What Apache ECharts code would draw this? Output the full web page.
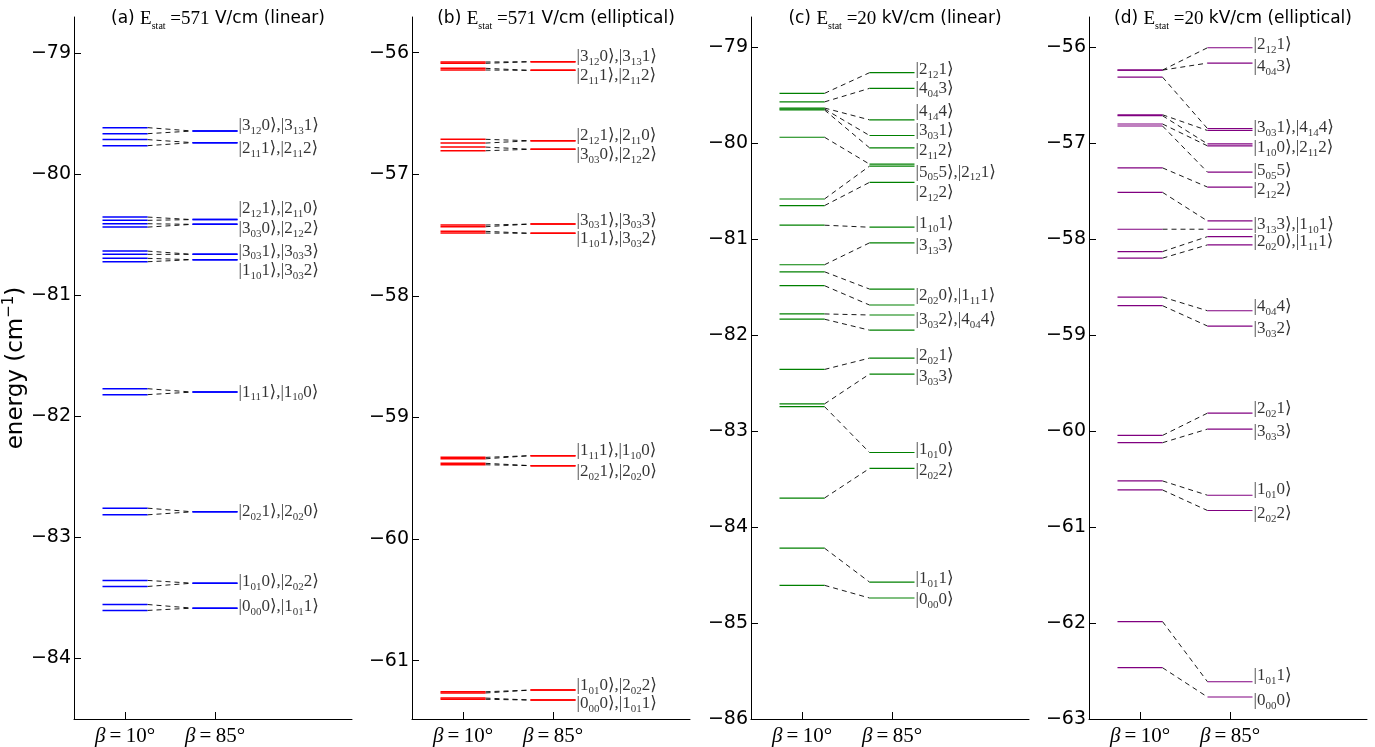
<!DOCTYPE html>
<html><head><meta charset="utf-8">
<script src="https://cdn.jsdelivr.net/npm/echarts@6/dist/echarts.min.js"></script>
<style>html,body{margin:0;padding:0;background:#fff}#c{width:1375px;height:747px}</style>
</head><body><div id="c"></div><script>
// ---------- DATA ----------
const betaLabels = ['10°', '85°'];
const panelLetters = ['(a)', '(b)', '(c)', '(d)'];
const fieldValues = ['571', '571', '20', '20'];
const fieldUnits = ['V/cm', 'V/cm', 'kV/cm', 'kV/cm'];
const polarizations = ['linear', 'elliptical', 'linear', 'elliptical'];
const yTicksA = [-84, -83, -82, -81, -80, -79];
const yTicksB = [-61, -60, -59, -58, -57, -56];
const yTicksC = [-86, -85, -84, -83, -82, -81, -80, -79];
const yTicksD = [-63, -62, -61, -60, -59, -58, -57, -56];

// panel (a): energy at beta=10 (left) and beta=85 (right) for each state
const aLeft = [-79.614, -79.664, -79.713, -79.763, -80.353, -80.380, -80.408, -80.436,
  -80.634, -80.661, -80.694, -80.722, -81.771, -81.820, -82.758, -82.813,
  -83.355, -83.405, -83.554, -83.603];
const aRight = [-79.642, -79.642, -79.738, -79.738, -80.374, -80.374, -80.413, -80.413,
  -80.661, -80.661, -80.705, -80.705, -81.799, -81.799, -82.788, -82.788,
  -83.378, -83.378, -83.584, -83.584];
const aLabels = ['|3_{12}0⟩,|3_{13}1⟩', '|2_{11}1⟩,|2_{11}2⟩', '|2_{12}1⟩,|2_{11}0⟩', '|3_{03}0⟩,|2_{12}2⟩',
  '|3_{03}1⟩,|3_{03}3⟩', '|1_{10}1⟩,|3_{03}2⟩', '|1_{11}1⟩,|1_{10}0⟩', '|2_{02}1⟩,|2_{02}0⟩',
  '|1_{01}0⟩,|2_{02}2⟩', '|0_{00}0⟩,|1_{01}1⟩'];
const aLabelE = [-79.595, -79.788, -80.281, -80.446, -80.634, -80.793, -81.799, -82.785, -83.364, -83.570];

// panel (b)
const bLeft = [-56.076, -56.087, -56.128, -56.142, -56.712, -56.743, -56.776, -56.806,
  -57.417, -57.431, -57.469, -57.483, -59.328, -59.340, -59.377, -59.389,
  -61.256, -61.266, -61.308, -61.318];
const bRight = [-56.074, -56.074, -56.145, -56.145, -56.724, -56.724, -56.794, -56.794,
  -57.409, -57.409, -57.485, -57.485, -59.314, -59.314, -59.396, -59.396,
  -61.242, -61.242, -61.324, -61.324];
const bLabels = ['|3_{12}0⟩,|3_{13}1⟩', '|2_{11}1⟩,|2_{11}2⟩', '|2_{12}1⟩,|2_{11}0⟩', '|3_{03}0⟩,|2_{12}2⟩',
  '|3_{03}1⟩,|3_{03}3⟩', '|1_{10}1⟩,|3_{03}2⟩', '|1_{11}1⟩,|1_{10}0⟩', '|2_{02}1⟩,|2_{02}0⟩',
  '|1_{01}0⟩,|2_{02}2⟩', '|0_{00}0⟩,|1_{01}1⟩'];
const bLabelE = [-56.033, -56.189, -56.685, -56.841, -57.376, -57.526, -59.273, -59.446, -61.206, -61.356];

// panel (c)
const cLeft = [-79.485, -79.574, -79.638, -79.648, -79.658, -79.942, -80.585, -80.654, -80.858, -81.270,
  -81.343, -81.488, -81.782, -81.837, -82.360, -82.719, -82.747, -83.699, -84.221, -84.608];
const cRight = [-79.270, -79.433, -79.761, -79.924, -80.052, -80.222, -80.243, -80.412, -80.879, -81.042,
  -81.523, -81.689, -81.793, -81.951, -82.242, -82.408, -83.225, -83.391, -84.574, -84.740];
const cLabels = ['|2_{12}1⟩', '|4_{04}3⟩', '|4_{14}4⟩', '|3_{03}1⟩', '|2_{11}2⟩', '|5_{05}5⟩,|2_{12}1⟩',
  '|2_{12}2⟩', '|1_{10}1⟩', '|3_{13}3⟩', '|2_{02}0⟩,|1_{11}1⟩', '|3_{03}2⟩,|4_{04}4⟩', '|2_{02}1⟩',
  '|3_{03}3⟩', '|1_{01}0⟩', '|2_{02}2⟩', '|1_{01}1⟩', '|0_{00}0⟩'];
const cLabelE = [-79.239, -79.433, -79.672, -79.872, -80.077, -80.305, -80.519, -80.841, -81.073,
  -81.592, -81.844, -82.215, -82.439, -83.190, -83.415, -84.540, -84.758];

// panel (d)
const dLeft = [-56.243, -56.243, -56.316, -56.708, -56.718, -56.804, -56.825, -57.261, -57.516, -57.900,
  -58.133, -58.201, -58.606, -58.696, -60.047, -60.123, -60.521, -60.615, -61.985, -62.466];
const dRight = [-56.010, -56.170, -56.852, -56.872, -57.011, -57.032, -57.305, -57.461, -57.814, -57.900,
  -57.977, -58.063, -58.749, -58.908, -59.815, -59.981, -60.670, -60.829, -62.612, -62.771];
const dLabels = ['|2_{12}1⟩', '|4_{04}3⟩', '|3_{03}1⟩,|4_{14}4⟩', '|1_{10}0⟩,|2_{11}2⟩', '|5_{05}5⟩',
  '|2_{12}2⟩', '|3_{13}3⟩,|1_{10}1⟩', '|2_{02}0⟩,|1_{11}1⟩', '|4_{04}4⟩', '|3_{03}2⟩',
  '|2_{02}1⟩', '|3_{03}3⟩', '|1_{01}0⟩', '|2_{02}2⟩', '|1_{01}1⟩', '|0_{00}0⟩'];
const dLabelE = [-55.976, -56.208, -56.841, -57.049, -57.292, -57.489, -57.856, -58.029, -58.710,
  -58.936, -59.766, -60.008, -60.615, -60.857, -62.552, -62.806];

// ---------- LAYOUT / STYLE ----------
const panels = [
  {left: 74, yMin: -84.5, yMax: -78.7, ticks: yTicksA, color: '#0000ff', L: aLeft, R: aRight, labels: aLabels, labelE: aLabelE, lw: 1.5},
  {left: 412, yMin: -61.48, yMax: -55.706, ticks: yTicksB, color: '#ff0000', L: bLeft, R: bRight, labels: bLabels, labelE: bLabelE, lw: 1.5},
  {left: 751, yMin: -86, yMax: -78.69, ticks: yTicksC, color: '#008000', L: cLeft, R: cRight, labels: cLabels, labelE: cLabelE, lw: 1.2},
  {left: 1089, yMin: -63, yMax: -55.69, ticks: yTicksD, color: '#800080', L: dLeft, R: dRight, labels: dLabels, labelE: dLabelE, lw: 1.2}
];
const GRID_TOP = 17, GRID_H = 702, GRID_W = 278;
const X_MIN = 0.4333, X_MAX = X_MIN + GRID_W / 90;
const SERIF = '"Liberation Serif","DejaVu Serif",serif';
const SANS = '"DejaVu Sans",sans-serif';

function ket(s) {
  return '{n|' + s.replace(/_\{(\w+)\}/g, (m, g) => '}{s|' + g + '}{n|') + '}';
}
const ketRich = {
  n: {fontFamily: SERIF, fontSize: 17, lineHeight: 22, color: '#000', verticalAlign: 'middle'},
  s: {fontFamily: SERIF, fontSize: 11, lineHeight: 10, color: '#000', verticalAlign: 'bottom'}
};

const option = {
  animation: false,
  backgroundColor: '#fff',
  title: [], grid: [], xAxis: [], yAxis: [], series: []
};

panels.forEach((p, k) => {
  option.grid.push({left: p.left, top: GRID_TOP, width: GRID_W, height: GRID_H, containLabel: false, outerBoundsMode: 'none'});
  option.title.push({
    text: '{p|' + panelLetters[k] + ' }{e|E}{s|stat}{e| =' + fieldValues[k] + '}{p| ' + fieldUnits[k] + ' (' + polarizations[k] + ')}',
    left: p.left + GRID_W / 2, top: 2, textAlign: 'center',
    textStyle: {fontWeight: 'normal', rich: {
      p: {fontFamily: SANS, fontSize: 17, fontWeight: 'normal', color: '#000', lineHeight: 24, verticalAlign: 'middle'},
      e: {fontFamily: SERIF, fontSize: 19, fontWeight: 'normal', color: '#000', lineHeight: 24, verticalAlign: 'middle'},
      s: {fontFamily: SERIF, fontSize: 10, fontWeight: 'normal', color: '#000', lineHeight: 10, verticalAlign: 'bottom'}
    }}
  });
  option.xAxis.push({
    type: 'value', gridIndex: k, min: X_MIN, max: X_MAX,
    axisLine: {show: true, onZero: false, lineStyle: {color: '#000', width: 1}},
    axisTick: {show: true, inside: true, length: 7, customValues: [1, 2], lineStyle: {color: '#000'}},
    splitLine: {show: false},
    axisLabel: {show: true, customValues: [1, 2], margin: 7,
      formatter: v => '{b|β}{n|\u2009=\u2009' + betaLabels[Math.round(v) - 1] + '}',
      rich: {
        b: {fontFamily: SERIF, fontStyle: 'italic', fontSize: 21, color: '#000'},
        n: {fontFamily: SERIF, fontSize: 21, color: '#000'}
      }}
  });
  const y = {
    type: 'value', gridIndex: k, min: p.yMin, max: p.yMax,
    axisLine: {show: true, onZero: false, lineStyle: {color: '#000', width: 1}},
    axisTick: {show: true, inside: true, length: 7, customValues: p.ticks, lineStyle: {color: '#000'}},
    splitLine: {show: false},
    axisLabel: {show: true, customValues: p.ticks, margin: 3, fontFamily: SANS, fontSize: 19, color: '#000',
      formatter: v => String(v).replace('-', '\u2212')}
  };
  if (k === 0) {
    y.name = '{n|energy (cm}{u|\u22121}{n|)}';
    y.nameLocation = 'middle';
    y.nameGap = 44;
    y.nameRotate = 90;
    y.nameMoveOverlap = false;
    y.nameTextStyle = {rich: {
      n: {fontFamily: SANS, fontSize: 23, color: '#000', lineHeight: 28, verticalAlign: 'middle'},
      u: {fontFamily: SANS, fontSize: 15, color: '#000', lineHeight: 14, verticalAlign: 'top'}
    }};
  }
  option.yAxis.push(y);

  const color = p.color, lw = p.lw;
  option.series.push({
    type: 'custom', xAxisIndex: k, yAxisIndex: k, silent: true, clip: false,
    data: p.L.map((l, i) => [1.5, l, p.R[i]]),
    encode: {x: 0, y: 1},
    renderItem: (params, api) => {
      const l = api.value(1), r = api.value(2);
      const a1 = api.coord([0.75, l]), a2 = api.coord([1.25, l]);
      const b1 = api.coord([1.75, r]), b2 = api.coord([2.25, r]);
      return {type: 'group', children: [
        {type: 'line', shape: {x1: a2[0], y1: a2[1], x2: b1[0], y2: b1[1]},
          style: {stroke: '#000', lineWidth: 0.9, lineDash: [5, 4]}},
        {type: 'line', shape: {x1: a1[0], y1: a1[1], x2: a2[0], y2: a2[1]},
          style: {stroke: color, lineWidth: lw}},
        {type: 'line', shape: {x1: b1[0], y1: b1[1], x2: b2[0], y2: b2[1]},
          style: {stroke: color, lineWidth: lw}}
      ]};
    }
  });
  option.series.push({
    type: 'scatter', xAxisIndex: k, yAxisIndex: k, silent: true, symbolSize: 0,
    data: p.labelE.map(e => [2.25, e]),
    label: {show: true, position: 'right', distance: 1,
      formatter: q => ket(p.labels[q.dataIndex]), rich: ketRich}
  });
});

const chart = echarts.init(document.getElementById('c'), null, {renderer: 'canvas'});
chart.setOption(option);
</script></body></html>
